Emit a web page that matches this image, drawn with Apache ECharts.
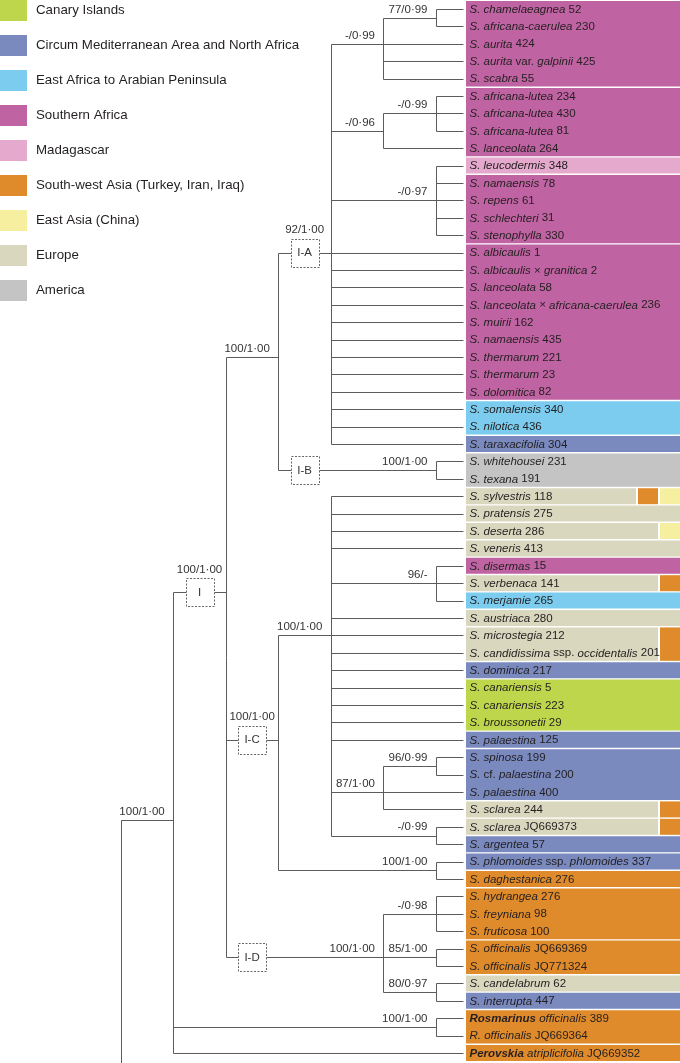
<!DOCTYPE html>
<html><head><meta charset="utf-8">
<script src="https://cdn.jsdelivr.net/npm/echarts@6/dist/echarts.min.js"></script>
<style>html,body{margin:0;padding:0;background:#fff}#c{width:680px;height:1063px}</style>
</head><body><div id="c"></div>
<script>
// ---------- DATA ----------
const regionKeys = ['CI','CM','EA','SA','MA','SW','EC','EU','AM'];
const regionNames = ['Canary Islands','Circum Mediterranean Area and North Africa','East Africa to Arabian Peninsula','Southern Africa','Madagascar','South-west Asia (Turkey, Iran, Iraq)','East Asia (China)','Europe','America'];
const regionColors = ['#bdd64b','#7a8abf','#7bccee','#c063a3','#e4a9cc','#e08b2b','#f6ef9f','#d9d7be','#c4c4c5'];

// tips, top to bottom (_italic_, **bold italic**)
const tipLabels = [
 '_S. chamelaeagnea_ 52','_S. africana-caerulea_ 230','_S. aurita_ 424','_S. aurita_ var. _galpinii_ 425','_S. scabra_ 55',
 '_S. africana-lutea_ 234','_S. africana-lutea_ 430','_S. africana-lutea_ 81','_S. lanceolata_ 264',
 '_S. leucodermis_ 348','_S. namaensis_ 78','_S. repens_ 61','_S. schlechteri_ 31','_S. stenophylla_ 330',
 '_S. albicaulis_ 1','_S. albicaulis_ × _granitica_ 2','_S. lanceolata_ 58','_S. lanceolata_ × _africana-caerulea_ 236','_S. muirii_ 162',
 '_S. namaensis_ 435','_S. thermarum_ 221','_S. thermarum_ 23','_S. dolomitica_ 82','_S. somalensis_ 340','_S. nilotica_ 436',
 '_S. taraxacifolia_ 304','_S. whitehousei_ 231','_S. texana_ 191',
 '_S. sylvestris_ 118','_S. pratensis_ 275','_S. deserta_ 286','_S. veneris_ 413','_S. disermas_ 15','_S. verbenaca_ 141',
 '_S. merjamie_ 265','_S. austriaca_ 280','_S. microstegia_ 212','_S. candidissima_ ssp. _occidentalis_ 201','_S. dominica_ 217',
 '_S. canariensis_ 5','_S. canariensis_ 223','_S. broussonetii_ 29','_S. palaestina_ 125','_S. spinosa_ 199','_S._ cf. _palaestina_ 200',
 '_S. palaestina_ 400','_S. sclarea_ 244','_S. sclarea_ JQ669373','_S. argentea_ 57','_S. phlomoides_ ssp. _phlomoides_ 337',
 '_S. daghestanica_ 276','_S. hydrangea_ 276','_S. freyniana_ 98','_S. fruticosa_ 100','_S. officinalis_ JQ669369','_S. officinalis_ JQ771324',
 '_S. candelabrum_ 62','_S. interrupta_ 447','**Rosmarinus** _officinalis_ 389','_R. officinalis_ JQ669364','**Perovskia** _atriplicifolia_ JQ669352'
];
const tipParents = [
 'A11','A11','A1','A1','A1','A21','A21','A21','A2','A3','A3','A3','A3','A3',
 'IA','IA','IA','IA','IA','IA','IA','IA','IA','IA','IA','IA','IB','IB',
 'C1','C1','C1','C1','C11','C11','C11','C1','C1','C1','C1','C1','C1','C1','C1',
 'C121','C121','C12','C12','C13','C13','C2','C2','D1','D1','D1','D2','D2','D3','D3','RO','RO','N1'
];
const tipRegions = [
 'SA','SA','SA','SA','SA','SA','SA','SA','SA','MA','SA','SA','SA','SA',
 'SA','SA','SA','SA','SA','SA','SA','SA','SA','EA','EA','CM','AM','AM',
 'EU+SW+EC','EU','EU+EC','EU','SA','EU+SW','EA','EU','EU+SW','EU+SW','CM',
 'CI','CI','CI','CM','CM','CM','CM','EU+SW','EU+SW','CM','CM',
 'SW','SW','SW','SW','SW','SW','EU','CM','SW','SW','SW'
];
// consecutive tips sharing one coloured box
const boxBlocks = [5,4,1,4,9,2,1,2, 1,1,1,1,1,1,1,1,2,1,3,1,3,1,1,1,1,1,3,2,1,1,2,1];

// internal nodes
const nodeNames   = ['R','N1','I','AB','IA','A1','A11','A2','A21','A3','IB','IC','C1','C11','C12','C121','C13','C2','ID','D1','D2','D3','RO'];
const nodeParents = [null,'R','N1','I','AB','IA','A1','IA','A2','IA','AB','I','IC','C1','C1','C12','C1','IC','I','ID','ID','ID','N1'];
const nodeDepths  = [0,1,2,3,4,5,6,5,6,6,6,3,4,6,5,6,6,6,5,6,6,6,6];
const nodeStems   = [null,47.6,34.5,21,15,3,1.5,8,7,12,27.5,43,37,34,46,44.5,48.5,50.5,55.5,53,55.5,57.5,59.5];
const nodeSupport = ['','100/1·00','100/1·00','100/1·00','92/1·00','-/0·99','77/0·99','-/0·96','-/0·99','-/0·97','100/1·00','100/1·00','100/1·00','96/-','87/1·00','96/0·99','-/0·99','100/1·00','100/1·00','-/0·98','85/1·00','80/0·97','100/1·00'];
const nodeClade   = ['','','I','','I-A','','','','','','I-B','I-C','','','','','','','I-D','','','',''];

// ---------- LAYOUT ----------
const FONT = "'Liberation Sans', Arial, Helvetica, sans-serif";
const TXT = '#231f20';
const LINE = '#5c5c5c';
const TIP_DEPTH = 6, TIP_EXT = 27, BOX_OFF = 30, LABEL_OFF = 33.5;
const SEG_W = 20, SEG_GAP = 2;

const idx = {}; nodeNames.forEach((n,i)=>idx[n]=i);
const nTips = tipLabels.length;

// children extents
const childStems = nodeNames.map(()=>[]);
nodeNames.forEach((n,i)=>{ if(nodeParents[i]) childStems[idx[nodeParents[i]]].push(nodeStems[i]); });
tipParents.forEach((p,t)=>childStems[idx[p]].push(t+1));

// line segments: [x1,y1,x2,y2,x2pxOffset]
const segs = [];
nodeNames.forEach((n,i)=>{
  const cs = childStems[i];
  const lo = Math.min(...cs);
  const hi = nodeParents[i] ? Math.max(...cs) : 64;
  segs.push([nodeDepths[i], lo, nodeDepths[i], hi, 0]);
  if (nodeParents[i]) segs.push([nodeDepths[idx[nodeParents[i]]], nodeStems[i], nodeDepths[i], nodeStems[i], 0]);
});
tipParents.forEach((p,t)=>segs.push([nodeDepths[idx[p]], t+1, TIP_DEPTH, t+1, TIP_EXT]));

// region box segments per region
const regionData = regionKeys.map(()=>[]);
let start = 1;
boxBlocks.forEach(cnt=>{
  const regs = tipRegions[start-1].split('+');
  regs.forEach((r,j)=>regionData[regionKeys.indexOf(r)].push([TIP_DEPTH, start, start+cnt-1, j, regs.length]));
  start += cnt;
});

// clade boxes and support labels
const cladeData = [], supportData = [];
nodeNames.forEach((n,i)=>{
  const p = nodeParents[i];
  const pd = p ? nodeDepths[idx[p]] : 0;
  const boxed = !!nodeClade[i];
  if (boxed) cladeData.push([pd+0.5, nodeStems[i], i]);
  if (nodeSupport[i]) {
    const above = boxed && nodeDepths[i] === pd+1;
    supportData.push([above ? pd+0.5 : nodeDepths[i], nodeStems[i], i, above ? 1 : 0]);
  }
});
const tipData = tipLabels.map((l,t)=>[TIP_DEPTH, t+1, t]);

function toRich(s){
  let out=''; const re=/\*\*(.+?)\*\*|_(.+?)_|([^_*]+)/g; let m;
  while((m=re.exec(s))){ if(m[1]) out+='{b|'+m[1]+'}'; else if(m[2]) out+='{i|'+m[2]+'}'; else out+='{n|'+m[3]+'}'; }
  return out;
}
const rich = {
  i:{fontStyle:'italic',fontSize:11.5,fontFamily:FONT,fill:TXT,color:TXT},
  b:{fontStyle:'italic',fontWeight:'bold',fontSize:11.5,fontFamily:FONT,fill:TXT,color:TXT},
  n:{fontSize:11.5,fontFamily:FONT,fill:TXT,color:TXT}
};
const crisp = v => Math.round(v)+0.5;

const chart = echarts.init(document.getElementById('c'), null, {renderer:'canvas'});
const regionSeries = regionKeys.map((k,ri)=>({
  type:'custom', name: regionNames[ri], coordinateSystem:'cartesian2d',
  itemStyle:{color: regionColors[ri]}, z:1, silent:true,
  data: regionData[ri],
  renderItem:(params, api)=>{
    const cs = params.coordSys;
    const right = cs.x + cs.width;
    const a = api.coord([api.value(0), api.value(1)-0.5]);
    const b = api.coord([api.value(0), api.value(2)+0.5]);
    const left = a[0] + BOX_OFF;
    const j = api.value(3), n = api.value(4);
    let x1, x2;
    if (j === 0) { x1 = left; x2 = right - (n-1)*(SEG_W+SEG_GAP); }
    else { x2 = right - (n-1-j)*(SEG_W+SEG_GAP); x1 = x2 - SEG_W; }
    return {type:'rect', shape:{x:x1, y:a[1]+0.7, width:x2-x1, height:b[1]-a[1]-1.4}, style:{fill:regionColors[ri]}};
  }
}));

chart.setOption({
  animation:false,
  color: regionColors,
  grid:{left:120.7, right:0, top:0.3, bottom:1.3},
  xAxis:{type:'value', min:0, max:10.643, show:false},
  yAxis:{type:'value', min:0.5, max:61.5, inverse:true, show:false},
  legend:{orient:'vertical', left:0, top:0, padding:0, itemWidth:27, itemHeight:21, itemGap:14, icon:'rect',
    selectedMode:false, data: regionNames,
    textStyle:{fontSize:13.3, color:TXT, fontFamily:FONT, padding:[0,0,0,4]}},
  series: regionSeries.concat([
    { type:'custom', name:'tree', coordinateSystem:'cartesian2d', z:2, silent:true, data: segs,
      renderItem:(params, api)=>{
        const p1 = api.coord([api.value(0), api.value(1)]);
        const p2 = api.coord([api.value(2), api.value(3)]);
        p2[0] += api.value(4);
        let shape;
        if (Math.abs(p1[0]-p2[0]) < 0.01) { const x = crisp(p1[0]); shape={x1:x,y1:Math.round(p1[1])+0.5,x2:x,y2:Math.round(p2[1])+0.5}; }
        else { const y = crisp(p1[1]); shape={x1:Math.round(p1[0])+0.5,y1:y,x2:Math.round(p2[0])+0.5,y2:y}; }
        return {type:'line', shape, style:{stroke:LINE, lineWidth:1}};
      } },
    { type:'custom', name:'clades', coordinateSystem:'cartesian2d', z:3, silent:true, data: cladeData,
      renderItem:(params, api)=>{
        const c = api.coord([api.value(0), api.value(1)]);
        const i = api.value(2);
        const x = Math.round(c[0]-14)+0.5, y = Math.round(c[1]-14)+0.5;
        return {type:'group', children:[
          {type:'rect', shape:{x, y, width:28, height:28}, style:{fill:'#fff', stroke:'#666', lineWidth:1, lineDash:[2,1.5]}},
          {type:'text', style:{text:nodeClade[i], x:c[0], y:c[1]+0.5, align:'center', verticalAlign:'middle', fontSize:11.5, fontFamily:FONT, fill:'#333'}}
        ]};
      } },
    { type:'custom', name:'support', coordinateSystem:'cartesian2d', z:4, silent:true, data: supportData,
      renderItem:(params, api)=>{
        const c = api.coord([api.value(0), api.value(1)]);
        const i = api.value(2), above = api.value(3);
        const st = above
          ? {text:nodeSupport[i], x:c[0], y:c[1]-22.5, align:'center'}
          : {text:nodeSupport[i], x:c[0]-8.5, y:c[1]-8.3, align:'right'};
        return {type:'text', style:Object.assign(st, {verticalAlign:'middle', fontSize:11.5, fontFamily:FONT, fill:'#333'})};
      } },
    { type:'custom', name:'tips', coordinateSystem:'cartesian2d', z:5, silent:true, data: tipData,
      renderItem:(params, api)=>{
        const c = api.coord([api.value(0), api.value(1)]);
        const t = api.value(2);
        return {type:'text', style:{text:toRich(tipLabels[t]), rich, x:c[0]+LABEL_OFF, y:c[1]+0.5, verticalAlign:'middle', fontSize:11.5, fontFamily:FONT, fill:TXT}};
      } }
  ])
});
</script></body></html>
